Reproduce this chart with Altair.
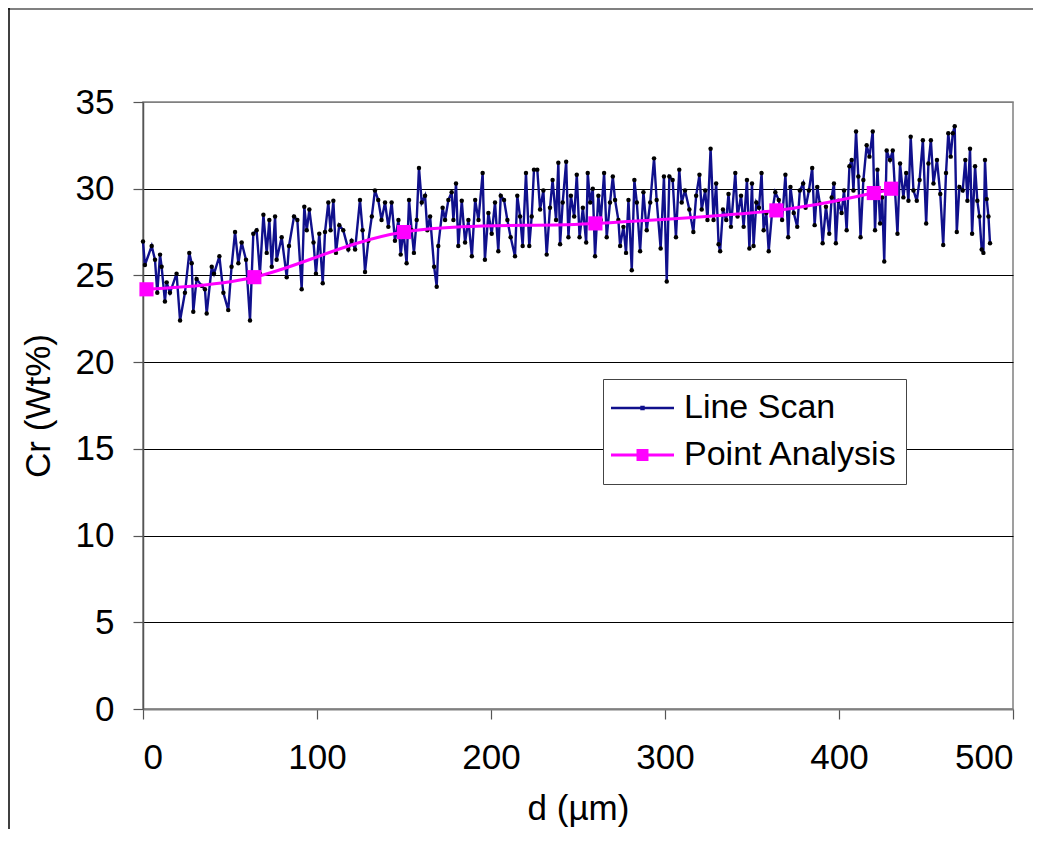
import altair as alt
import pandas as pd

# ---- Line Scan ----
scan_d = [
    0, 1.1, 5.0, 6.9, 8.2, 9.8, 10.7, 12.6, 13.6, 15.5, 19.3, 21.3, 24.1, 26.6, 28.0, 28.9, 30.8, 33.7, 35.6, 36.6,
    39.5, 40.8, 43.9, 46.2, 49.0, 50.9, 52.9, 54.8, 56.7, 59.2, 61.5, 63.4, 65.3, 67.2, 69.2, 71.1, 72.6, 74.0, 75.9, 76.8,
    79.7, 82.6, 83.9, 86.8, 88.7, 91.2, 92.7, 94.1, 95.6,
    98.0, 99.4, 101.3, 103.3, 104.6, 106.5, 107.8, 109.4, 110.9, 112.8, 115.1, 118.0, 119.9, 121.9, 124.7, 126.2, 127.6,
    129.5, 131.5, 133.3, 135.2, 137.1, 139.1, 141.0, 142.9, 144.8, 146.8, 148.1, 149.6, 151.5, 152.9, 154.4, 155.7, 157.3,
    158.6, 160.2, 162.1, 163.4, 165.0, 167.3, 168.8, 169.7, 172.2, 173.6, 175.5, 177.4, 178.4, 179.9, 181.2, 183.2, 185.1,
    187.0, 189.0, 190.9, 192.8, 195.2, 196.5,
    198.5, 200.4, 202.3, 204.2, 205.6, 207.5, 209.4, 211.3, 213.8, 215.1, 216.7, 218.2, 220.1, 222.0, 223.4, 224.7, 226.6,
    228.2, 230.1, 232.0, 233.9, 235.4, 237.4, 238.7, 239.7, 241.2, 243.2, 244.5, 245.9, 247.8, 249.3, 250.9, 252.8, 254.7,
    255.6, 257.0, 258.5, 259.8, 261.7, 263.1, 265.0, 266.5, 268.4, 270.0, 271.3, 273.2, 274.2, 276.1, 277.6, 279.0, 280.9,
    282.4, 283.8, 285.7, 287.6, 289.5, 291.5,
    293.7, 295.2, 297.5, 299.4, 301.0, 302.5, 304.4, 306.3, 308.2, 309.6, 311.5, 314.0, 316.3, 317.9, 319.8, 321.1, 323.1,
    324.4, 326.2, 327.9, 329.4, 330.8, 331.7, 333.3, 335.2, 336.5, 337.9, 340.4, 341.7, 343.7, 345.2, 347.1, 348.5, 350.0,
    350.9, 352.5, 354.0, 355.5, 356.7, 358.2, 359.6, 361.5, 363.4, 365.4, 367.3, 369.2, 370.8, 372.1, 374.0, 376.0, 377.5,
    379.4, 380.8, 382.7, 384.6, 386.0, 387.5,
    389.0, 390.6, 392.5, 394.4, 395.8, 397.1, 398.2, 399.6, 401.5, 402.9, 404.4, 406.0, 407.3, 408.3, 409.8, 411.1, 412.4,
    414.0, 415.9, 417.5, 419.4, 420.7, 422.1, 423.6, 424.8, 426.0, 427.4, 429.3, 430.9, 432.2, 433.6, 435.1, 437.0, 438.6,
    439.9, 441.2, 442.8, 444.7, 446.3, 448.2, 450.1, 451.4, 452.8, 454.3, 456.3, 458.2, 459.9, 461.5, 462.8, 464.2, 465.4,
    466.5, 467.7, 469.2, 471.1, 472.6, 473.8, 475.3, 476.5, 478.2, 479.5, 480.7, 482.0, 483.0, 483.9, 484.9, 485.9, 486.8,
]
scan_cr = [
    26.95, 25.6, 26.7, 25.9, 24.0, 26.2, 25.5, 23.5, 24.6, 24.0, 25.1, 22.4, 24.0, 26.3, 25.7, 22.9, 24.8, 24.4, 24.2, 22.8,
    25.5, 25.1, 26.1, 24.0, 23.0, 25.5, 27.5, 25.7, 26.9, 25.9, 22.4, 27.4, 27.6, 25.1, 28.5, 26.3, 28.2, 25.5, 28.4, 25.9,
    27.2, 24.9, 26.7, 28.4, 28.2, 24.2, 28.96, 27.6, 28.8,
    26.9, 25.1, 27.4, 24.55, 27.5, 29.2, 27.6, 29.3, 26.3, 27.9, 27.6, 26.5, 27.0, 26.5, 29.35, 27.6, 25.2,
    27.0, 28.4, 29.9, 29.35, 28.2, 29.2, 27.8, 29.2, 27.0, 28.2, 26.2, 27.6, 25.7, 29.35, 27.6, 26.3, 28.2,
    31.2, 29.2, 29.6, 27.6, 28.4, 25.5, 24.35, 26.7, 28.9, 28.2, 29.35, 29.8, 28.2, 30.3, 26.7, 29.3, 26.9,
    28.2, 26.1, 29.35, 28.2, 30.9, 25.9,
    28.6, 27.4, 29.2, 26.4, 29.6, 29.35, 28.2, 27.2, 26.1, 29.6, 28.4, 26.7, 30.9, 26.7, 28.4, 31.1, 31.1,
    28.8, 29.9, 26.2, 28.9, 30.5, 28.2, 31.5, 26.8, 29.2, 31.55, 27.2, 29.6, 28.4, 30.8, 27.2, 28.9, 26.9,
    30.9, 29.2, 30.0, 26.1, 29.6, 28.2, 30.9, 27.2, 29.2, 30.7, 29.35, 28.2, 26.7, 27.8, 26.3, 29.35, 25.3,
    30.5, 29.2, 26.4, 29.8, 27.6, 29.2,
    31.75, 29.35, 26.55, 30.7, 24.65, 30.7, 30.5, 27.2, 31.1, 29.2, 29.9, 28.8, 27.5, 29.6, 30.8, 28.8, 29.9,
    28.2, 32.3, 28.2, 30.3, 26.8, 26.4, 28.8, 28.2, 29.7, 27.8, 30.9, 28.4, 29.6, 27.8, 30.5, 26.55, 30.3,
    26.7, 29.2, 28.9, 30.9, 27.6, 28.6, 26.4, 28.6, 29.8, 29.35, 28.2, 30.8, 27.2, 30.1, 28.6, 27.8, 29.9,
    30.3, 28.9, 29.9, 31.2, 27.9, 30.1,
    29.15, 26.85, 28.96, 27.4, 29.5, 30.3, 26.85, 29.3, 28.6, 29.9, 27.6, 31.3, 31.65, 29.9, 33.3, 30.7, 27.2,
    30.5, 32.5, 31.85, 33.3, 27.6, 31.1, 28.0, 29.5, 25.8, 32.2, 31.65, 32.2, 29.9, 27.4, 31.45, 29.5, 30.9,
    29.3, 33.0, 29.9, 29.3, 30.5, 32.8, 28.0, 31.45, 32.8, 30.3, 31.65, 29.7, 26.75, 30.9, 33.2, 31.85, 33.2,
    33.6, 27.5, 30.1, 29.9, 31.65, 29.3, 32.3, 27.4, 31.3, 29.3, 28.4, 26.5, 26.3, 31.65, 29.4, 28.4, 26.85,
]

# ---- Point Analysis ----
pa_d = [2, 64, 150, 260, 364, 420, 430]
pa_cr = [24.2, 24.9, 27.5, 28.0, 28.75, 29.75, 30.0]

series_names = ["Line Scan", "Point Analysis"]
series_colors = ["#10108c", "#ff00ff"]
legend_paths = [
    "M-1,-0.04H1V0.04H-1Z M-0.07,-0.07H0.07V0.07H-0.07Z",
    "M-1,-0.045H1V0.045H-1Z M-0.19,-0.19H0.19V0.19H-0.19Z",
]
x_ticks = [0, 100, 200, 300, 400, 500]
y_ticks = [0, 5, 10, 15, 20, 25, 30, 35]

FONT = "Liberation Sans"
FS = 35

scan = pd.DataFrame({"d": scan_d, "cr": scan_cr})
pa = pd.DataFrame({"d": pa_d, "cr": pa_cr})
leg = pd.DataFrame({"series": series_names, "d": [0, 0], "cr": [0, 0]})

x_enc = alt.X(
    "d:Q",
    scale=alt.Scale(domain=[0, 500], nice=False),
    axis=alt.Axis(values=x_ticks, title="d (µm)", grid=False, labelPadding=21,
                  titlePadding=16, domainWidth=2),
)
y_enc = alt.Y(
    "cr:Q",
    scale=alt.Scale(domain=[0, 35], nice=False),
    axis=alt.Axis(
        values=y_ticks, title="Cr (Wt%)", grid=True, labelPadding=19, titlePadding=19,
        gridColor={"condition": {"test": "datum.value === 35 || datum.value === 0", "value": "#808080"},
                   "value": "#000000"},
        gridWidth=1, domainColor="#555555", domainWidth=1.5,
    ),
)

scan_line = alt.Chart(scan).mark_line(color=series_colors[0], strokeWidth=2.4).encode(x=x_enc, y=y_enc)
scan_pts = alt.Chart(scan).mark_point(filled=True, color="#000000", size=20, opacity=1).encode(x="d:Q", y="cr:Q")
pa_line = alt.Chart(pa).mark_line(color=series_colors[1], strokeWidth=3, interpolate="cardinal").encode(x="d:Q", y="cr:Q")
pa_pts = alt.Chart(pa).mark_point(filled=True, shape="square", color=series_colors[1], size=200, opacity=1).encode(
    x="d:Q", y="cr:Q")

legend_cfg = dict(
    orient="none", legendX=460, legendY=277, title=None,
    labelFont=FONT, labelFontSize=34, labelColor="#000000", labelLimit=500,
    fillColor="#ffffff", strokeColor="#444444", padding=8, clipHeight=42,
    symbolOpacity=1, symbolStrokeWidth=0, symbolSize=3969, labelOffset=10, rowPadding=5,
)
leg_layer = alt.Chart(leg).mark_point(filled=True, opacity=0, size=3969).encode(
    x="d:Q", y="cr:Q",
    color=alt.Color("series:N", scale=alt.Scale(domain=series_names, range=series_colors),
                    legend=alt.Legend(**legend_cfg)),
    shape=alt.Shape("series:N", scale=alt.Scale(domain=series_names, range=legend_paths),
                    legend=alt.Legend(**legend_cfg)),
)

one = pd.DataFrame({"k": [0]})
frame_top = alt.Chart(one).mark_rule(color="#808080", strokeWidth=2).encode(
    x=alt.value(-135), x2=alt.value(904), y=alt.value(-93))
frame_left = alt.Chart(one).mark_rule(color="#000000", strokeWidth=1.5).encode(
    x=alt.value(-134), y=alt.value(-94), y2=alt.value(730))

chart = alt.layer(scan_line, scan_pts, pa_line, pa_pts, leg_layer, frame_top, frame_left).properties(
    width=870, height=607,
    padding={"left": 135, "top": 94, "right": 20, "bottom": 120},
    autosize=alt.AutoSizeParams(type="none"),
    background="#ffffff",
).configure_axis(
    labelFont=FONT, labelFontSize=FS, labelColor="#000000",
    titleFont=FONT, titleFontSize=FS, titleFontWeight="normal", titleColor="#000000",
    tickColor="#555555", tickSize=10, tickWidth=1.2, domainColor="#808080",
).configure_view(stroke="#808080", strokeWidth=1.5)

chart.save("out.html", embed_options={"renderer": "svg", "actions": False})
